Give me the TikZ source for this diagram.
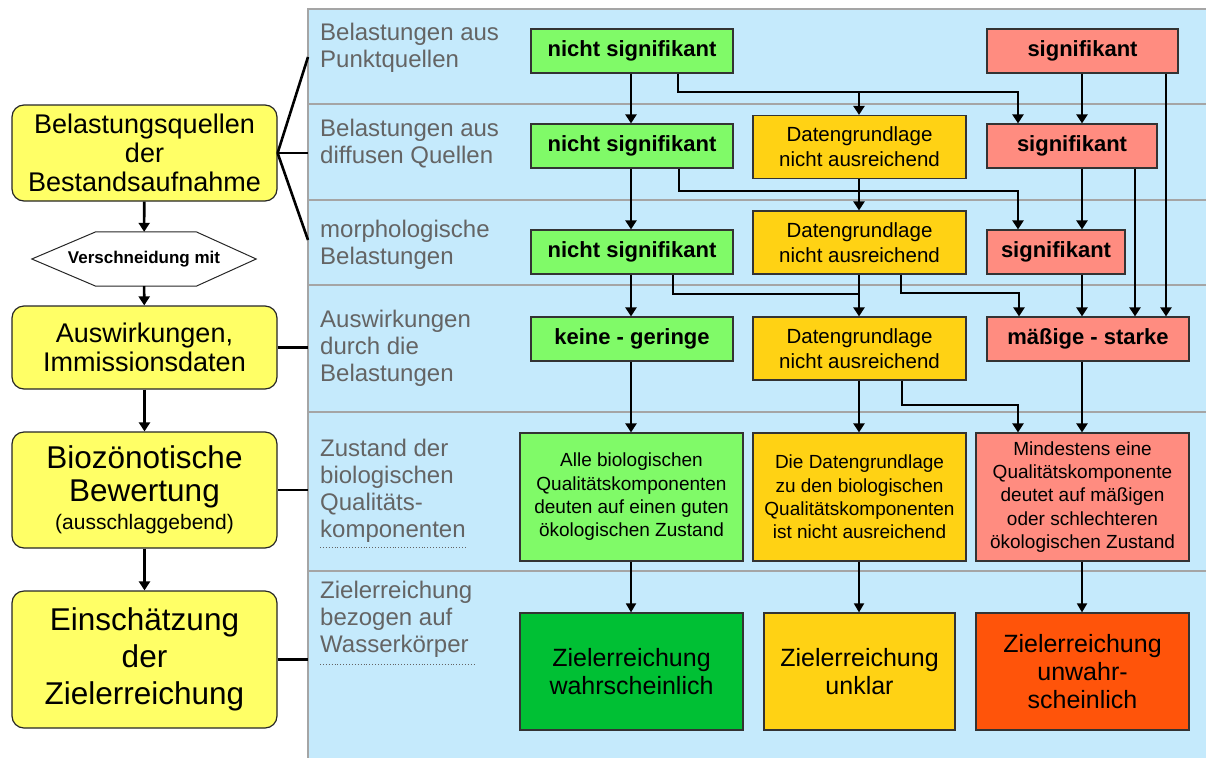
\documentclass[tikz,border=0pt]{standalone}
\usepackage{fontspec}
\setmainfont{Liberation Sans}
\usetikzlibrary{arrows.meta}

\definecolor{panelblue}{RGB}{197,234,252}
\definecolor{rowgray}{RGB}{165,165,165}
\definecolor{labelgray}{RGB}{100,100,100}
\definecolor{stepyellow}{RGB}{255,255,102}
\definecolor{boxgreen}{RGB}{128,250,104}
\definecolor{boxyellow}{RGB}{255,210,20}
\definecolor{boxred}{RGB}{255,140,128}
\definecolor{goalgreen}{RGB}{0,192,52}
\definecolor{goalred}{RGB}{255,84,10}

\begin{document}
\begin{tikzpicture}[x=1pt, y=-1pt,
  every node/.style={align=center, inner sep=0pt},
  stage/.style={draw=black!85, line width=1.2pt, rounded corners=12pt, fill=stepyellow,
    minimum width=265pt, font=\fontsize{27}{29}\selectfont},
  sigbox/.style={draw=black!80, line width=1.2pt, minimum height=44pt,
    font=\bfseries\fontsize{22}{26}\selectfont},
  databox/.style={draw=black!80, line width=1.2pt, fill=boxyellow, minimum width=213pt,
    minimum height=63pt, font=\fontsize{20.5}{25}\selectfont},
  statebox/.style={draw=black!80, line width=1.2pt, minimum height=128pt,
    font=\fontsize{19}{23.3}\selectfont},
  goalbox/.style={draw=black!80, line width=1.2pt, minimum height=117pt,
    font=\fontsize{25}{28}\selectfont},
  rowlabel/.style={anchor=base west, align=left, text=labelgray,
    font=\fontsize{24}{27}\selectfont},
  flow/.style={line width=2.6pt, -{Triangle[width=11pt,length=9pt]}},
  thinflow/.style={line width=1.8pt, -{Triangle[width=10pt,length=9pt]}},
  link/.style={line width=2.6pt}
  ]

% Hintergrund
\useasboundingbox (0,0) rectangle (1206,758);
\fill[panelblue] (308,9) rectangle (1206,758);
\draw[rowgray, line width=1.5pt] (1206,9) -- (308,9) -- (308,758);
\foreach \y in {104,200,285,412,571}
  \draw[rowgray, line width=1.2pt] (308,\y) -- (1206,\y);

% linke Spalte
\node[stage, minimum height=96pt] (src) at (144.5,153) {Belastungsquellen\\der\\Bestandsaufnahme};
\node[minimum width=224pt, minimum height=54pt, font=\bfseries\fontsize{17}{20}\selectfont] (cut) at (144,259) {Verschneidung mit};
\draw[black!85, line width=1pt] (cut.west) -- ([xshift=64pt]cut.north west) -- ([xshift=-60pt]cut.north east)
  -- (cut.east) -- ([xshift=-60pt]cut.south east) -- ([xshift=64pt]cut.south west) -- cycle;
\node[stage, minimum height=83pt] (eff) at (144.5,347.5) {Auswirkungen,\\Immissionsdaten};
\node[stage, minimum height=116pt, font=\fontsize{31.5}{33}\selectfont] (bio) at (144.5,490)
  {Biozönotische\\Bewertung\\[-5pt]{\fontsize{21}{25}\selectfont(ausschlaggebend)}};
\node[stage, minimum height=137pt, font=\fontsize{31.5}{37}\selectfont] (goal) at (144.5,659.5)
  {Einschätzung\\der\\Zielerreichung};

\draw[flow] (src) -- (cut);
\draw[flow] (cut) -- (eff);
\draw[flow] (eff) -- (bio);
\draw[flow] (bio) -- (goal);

\coordinate (p1) at (308,57);
\coordinate (p2) at (308,153);
\coordinate (p3) at (308,240);
\coordinate (p4) at (308,347.5);
\coordinate (p5) at (308,490);
\coordinate (p6) at (308,659.5);
\draw[link] (src.east) -- (p1);
\draw[link] (src.east) -- (p2);
\draw[link] (src.east) -- (p3);
\draw[link] (eff.east) -- (p4);
\draw[link] (bio.east) -- (p5);
\draw[link] (goal.east) -- (p6);

% Zeilenbeschriftungen (base = letzte Zeile)
\node[rowlabel] (r1) at (320,67) {Belastungen aus\\Punktquellen};
\node[rowlabel] (r2) at (320,163) {Belastungen aus\\diffusen Quellen};
\node[rowlabel] (r3) at (320,264) {morphologische\\Belastungen};
\node[rowlabel] (r4) at (320,381) {Auswirkungen\\durch die\\Belastungen};
\node[rowlabel] (r5) at (320,537) {Zustand der\\biologischen\\Qualitäts-\\komponenten};
\node[rowlabel] (r6) at (320,652) {Zielerreichung\\bezogen auf\\Wasserkörper};
\draw[labelgray, dotted, line width=0.9pt] (320,547) -- (467,547);
\draw[labelgray, dotted, line width=0.9pt] (320,664) -- (474,664);

% Belastungen
\node[sigbox, fill=boxgreen, minimum width=202pt] (ns1) at (632,51) {nicht signifikant};
\node[sigbox, fill=boxred, minimum width=191pt] (s1) at (1082.5,51) {signifikant};
\node[sigbox, fill=boxgreen, minimum width=202pt] (ns2) at (632,146) {nicht signifikant};
\node[databox] (dg2) at (859.5,147) {Datengrundlage\\nicht ausreichend};
\node[sigbox, fill=boxred, minimum width=170pt] (s2) at (1072,146) {signifikant};
\node[sigbox, fill=boxgreen, minimum width=202pt] (ns3) at (632,252) {nicht signifikant};
\node[databox] (dg3) at (859.5,242.5) {Datengrundlage\\nicht ausreichend};
\node[sigbox, fill=boxred, minimum width=138pt] (s3) at (1056,252) {signifikant};

% Auswirkungen
\node[sigbox, fill=boxgreen, minimum width=202pt] (kg) at (632,339) {keine - geringe};
\node[databox] (dg4) at (859.5,348.5) {Datengrundlage\\nicht ausreichend};
\node[sigbox, fill=boxred, minimum width=202pt] (ms) at (1088,339) {mäßige - starke};

% Zustand
\node[statebox, fill=boxgreen, minimum width=223pt] (gz) at (631.5,497)
  {Alle biologischen\\Qualitätskomponenten\\deuten auf einen guten\\ökologischen Zustand};
\node[statebox, fill=boxyellow, minimum width=213pt] (dz) at (859.5,497)
  {Die Datengrundlage\\zu den biologischen\\Qualitätskomponenten\\ist nicht ausreichend};
\node[statebox, fill=boxred, minimum width=213pt] (rz) at (1082.5,497)
  {Mindestens eine\\Qualitätskomponente\\deutet auf mäßigen\\oder schlechteren\\ökologischen Zustand};

% Zielerreichung
\node[goalbox, fill=goalgreen, minimum width=223pt] (zw) at (631.5,671.5) {Zielerreichung\\wahrscheinlich};
\node[goalbox, fill=boxyellow, minimum width=191pt] (zu) at (859.5,671.5) {Zielerreichung\\unklar};
\node[goalbox, fill=goalred, minimum width=213pt] (zn) at (1082.5,671.5) {Zielerreichung\\unwahr-\\scheinlich};

% senkrechte Pfeile
\foreach \a/\b/\x in {ns1/ns2/631, ns2/ns3/631, ns3/kg/631, kg/gz/631,
    s1/s2/1082, s2/s3/1082, s3/ms/1082, ms/rz/1082,
    dg2/dg3/859, dg3/dg4/859, dg4/dz/859, s1/ms/1166, s2/ms/1135}
  \draw[flow] (\a.south -| \x,0) -- (\b.north -| \x,0);
\foreach \a/\b/\x in {gz/zw/631, dz/zu/859, rz/zn/1082}
  \draw[thinflow] (\a.south -| \x,0) -- (\b.north -| \x,0);

% abgeknickte Pfeile
\coordinate (j1) at (859,92);
\coordinate (j3) at (859,294);
\draw[flow] (ns1.south -| 678,0) |- (1018,92) -- (s2.north -| 1018,0);
\draw[flow] (j1) -- (dg2.north -| 859,0);
\draw[flow] (ns2.south -| 679,0) |- (1018,191) -- (s3.north -| 1018,0);
\draw[link] (ns3.south -| 673,0) |- (j3);
\draw[flow] (dg3.south -| 901,0) |- (1019,293) -- (ms.north -| 1019,0);
\draw[flow] (dg4.south -| 902,0) |- (1018,405) -- (rz.north -| 1018,0);

\end{tikzpicture}
\end{document}
